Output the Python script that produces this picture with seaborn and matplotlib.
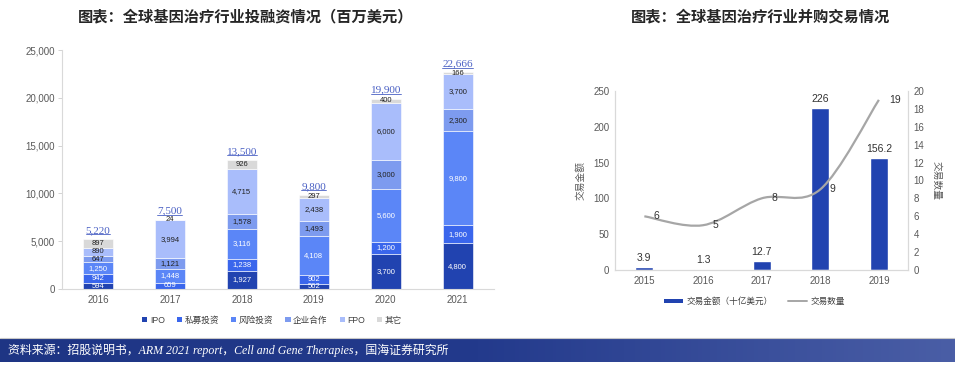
import numpy as np
import pandas as pd
import matplotlib
matplotlib.use("Agg")
import matplotlib.pyplot as plt
import seaborn as sns
from matplotlib.patches import Patch
from matplotlib.lines import Line2D
from matplotlib.path import Path
from matplotlib.patches import PathPatch

# ---- data: left chart (financing, USD mn) ----
fin_years = ["2016", "2017", "2018", "2019", "2020", "2021"]
fin_types = ["IPO", "私募投资", "风险投资", "企业合作", "FPO", "其它"]
ipo = [594, 0, 1927, 562, 3700, 4800]
private = [942, 659, 1238, 902, 1200, 1900]
venture = [1250, 1448, 3116, 4108, 5600, 9800]
partner = [647, 1121, 1578, 1493, 3000, 2300]
fpo = [890, 3994, 4715, 2438, 6000, 3700]
other = [897, 24, 926, 297, 400, 166]
fin_totals = [5220, 7500, 13500, 9800, 19900, 22666]

# ---- data: right chart (M&A) ----
ma_years = ["2015", "2016", "2017", "2018", "2019"]
ma_amount = [3.9, 1.3, 12.7, 226, 156.2]
ma_count = [6, 5, 8, 9, 19]

seg_colors = ["#2143b0", "#3a66ec", "#5b86f7", "#7d9bef", "#a9bdfb", "#d9d9d9"]
seg_text = ["white", "white", "white", "#222222", "#222222", "#222222"]
ma_colors = ["#2143b0", "#a9bdfb", "#2143b0", "#2143b0", "#2143b0"]

sns.set_theme(style="white")
plt.rcParams["font.family"] = ["Liberation Sans", "Noto Sans CJK SC", "DejaVu Sans"]
cjk = ["Noto Sans CJK SC", "DejaVu Sans"]

fig = plt.figure(figsize=(9.55, 3.67), dpi=100)

# ================= left chart =================
ax = fig.add_axes([0.0649, 0.2125, 0.452, 0.651])
series = [ipo, private, venture, partner, fpo, other]
bottom = np.zeros(len(fin_years))
for name, vals, col, tcol in zip(fin_types, series, seg_colors, seg_text):
    vals = np.array(vals, dtype=float)
    sns.barplot(x=fin_years, y=vals, bottom=bottom, color=col, saturation=1,
                width=0.42, edgecolor="white", linewidth=0.4, ax=ax)
    cont = ax.containers[-1]
    labels = [f"{int(v):,}" if v > 0 else "" for v in vals]
    ax.bar_label(cont, labels=labels, label_type="center", fontsize=5.5,
                 color=tcol)
    bottom += vals

tot_texts = []
for i, t in enumerate(fin_totals):
    txt = ax.annotate(f"{t:,}", (i, bottom[i]), xytext=(0, 3),
                      textcoords="offset points", ha="center", va="bottom",
                      fontsize=8, color="#4a60c4", family="Liberation Serif")
    tot_texts.append(txt)

ax.set_xlim(-0.5, 5.5)
ax.set_ylim(0, 25000)
ax.set_yticks(range(0, 25001, 5000))
ax.set_yticklabels([f"{v:,}" for v in range(0, 25001, 5000)])
ax.tick_params(axis="y", labelsize=7, colors="#595959", length=3, width=0.6,
               left=True, color="#cccccc", pad=2)
ax.tick_params(axis="x", labelsize=7, colors="#595959", length=0, pad=4)
for s in ["top", "right"]:
    ax.spines[s].set_visible(False)
for s in ["left", "bottom"]:
    ax.spines[s].set_color("#d9d9d9")
    ax.spines[s].set_linewidth(0.8)

fig.text(0.257, 0.955, "图表：全球基因治疗行业投融资情况（百万美元）",
         ha="center", va="center", fontsize=11, fontweight="bold", family=cjk)

handles = [Patch(facecolor=c, edgecolor="none") for c in seg_colors]
fig.legend(handles, fin_types, loc="center", bbox_to_anchor=(0.285, 0.128),
           ncol=6, frameon=False, fontsize=6.2, handlelength=0.6,
           handleheight=0.6, handletextpad=0.3, columnspacing=1.4,
           labelcolor="#404040")

# ================= right chart =================
ax2 = fig.add_axes([0.644, 0.2643, 0.307, 0.488])
sns.barplot(x=ma_years, y=ma_amount, hue=ma_years, palette=ma_colors,
            saturation=1, width=0.31, legend=False, ax=ax2)
for cont, v in zip(ax2.containers, ma_amount):
    ax2.bar_label(cont, labels=[f"{v:g}"], padding=3, fontsize=7.5,
                  color="#333333")
ax2.set_xlim(-0.5, 4.5)
ax2.set_ylim(0, 250)
ax2.set_yticks(range(0, 251, 50))
ax2.set_ylabel("交易金额", fontsize=7, color="#595959", labelpad=6, family=cjk)
ax2.set_xlabel("")
ax2.tick_params(axis="both", labelsize=7, colors="#595959", length=0, pad=4)

ax3 = ax2.twinx()
ax3.set_ylim(0, 20)
ax3.set_yticks(range(0, 21, 2))
ax3.tick_params(axis="y", labelsize=7, colors="#595959", length=0, pad=4)
ax3.set_ylabel("交易数量", fontsize=7, color="#595959", rotation=270,
               labelpad=12, family=cjk)

# smooth line through the points (Catmull-Rom as cubic Bezier)
xs = np.arange(len(ma_count), dtype=float)
ys = np.array(ma_count, dtype=float)
pts = np.column_stack([xs, ys])
ext = np.vstack([pts[0], pts, pts[-1]])
verts = [tuple(pts[0])]
codes = [Path.MOVETO]
for i in range(len(pts) - 1):
    p0, p1, p2, p3 = ext[i], ext[i + 1], ext[i + 2], ext[i + 3]
    c1 = p1 + (p2 - p0) / 6
    c2 = p2 - (p3 - p1) / 6
    verts += [tuple(c1), tuple(c2), tuple(p2)]
    codes += [Path.CURVE4] * 3
ax3.add_patch(PathPatch(Path(verts, codes), facecolor="none",
                        edgecolor="#a6a6a6", linewidth=1.6))
for x, y in zip(xs, ys):
    ax3.annotate(f"{int(y)}", (x, y), xytext=(9 if y < 19 else 12, 0),
                 textcoords="offset points", ha="center", va="center",
                 fontsize=7.5, color="#333333")

for a in (ax2, ax3):
    a.spines["top"].set_visible(False)
    for s in ["left", "right", "bottom"]:
        a.spines[s].set_color("#d9d9d9")
        a.spines[s].set_linewidth(0.8)
    a.grid(False)

fig.text(0.796, 0.955, "图表：全球基因治疗行业并购交易情况",
         ha="center", va="center", fontsize=11, fontweight="bold", family=cjk)

h2 = [Patch(facecolor="#2143b0", edgecolor="none"),
      Line2D([0], [0], color="#a6a6a6", lw=1.4)]
fig.legend(h2, ["交易金额（十亿美元）", "交易数量"], loc="center",
           bbox_to_anchor=(0.79, 0.178), ncol=2, frameon=False, fontsize=6.2,
           handlelength=2.2, handleheight=0.45, handletextpad=0.4,
           columnspacing=1.8, labelcolor="#404040")

# ================= footer banner =================
fax = fig.add_axes([0, 0.0136, 1, 0.063])
grad = np.linspace(0, 1, 256).reshape(1, -1)
cmap = matplotlib.colors.LinearSegmentedColormap.from_list(
    "band", ["#1e3584", "#233a8c", "#4a5ea6"])
fax.imshow(grad, aspect="auto", cmap=cmap, extent=[0, 1, 0, 1])
fax.set_axis_off()
fax.text(0.008, 0.5,
         "资料来源：招股说明书，ARM 2021 report，Cell and Gene Therapies，国海证券研究所",
         ha="left", va="center", color="white", fontsize=8.6, style="italic",
         family=["Liberation Serif", "Noto Sans CJK SC"],
         transform=fax.transAxes)
fig.add_artist(Line2D([0, 1], [0.079, 0.079], color="#c8c8c8", lw=0.8,
                      transform=fig.transFigure))

# underline the totals
fig.canvas.draw()
inv = fig.transFigure.inverted()
for txt in tot_texts:
    bb = txt.get_window_extent()
    (x0, y0), (x1, _) = inv.transform([(bb.x0, bb.y0), (bb.x1, bb.y1)])
    fig.add_artist(Line2D([x0, x1], [y0 + 0.002, y0 + 0.002],
                          color="#4a60c4", lw=0.6,
                          transform=fig.transFigure))

fig.savefig("out.png", dpi=100)
